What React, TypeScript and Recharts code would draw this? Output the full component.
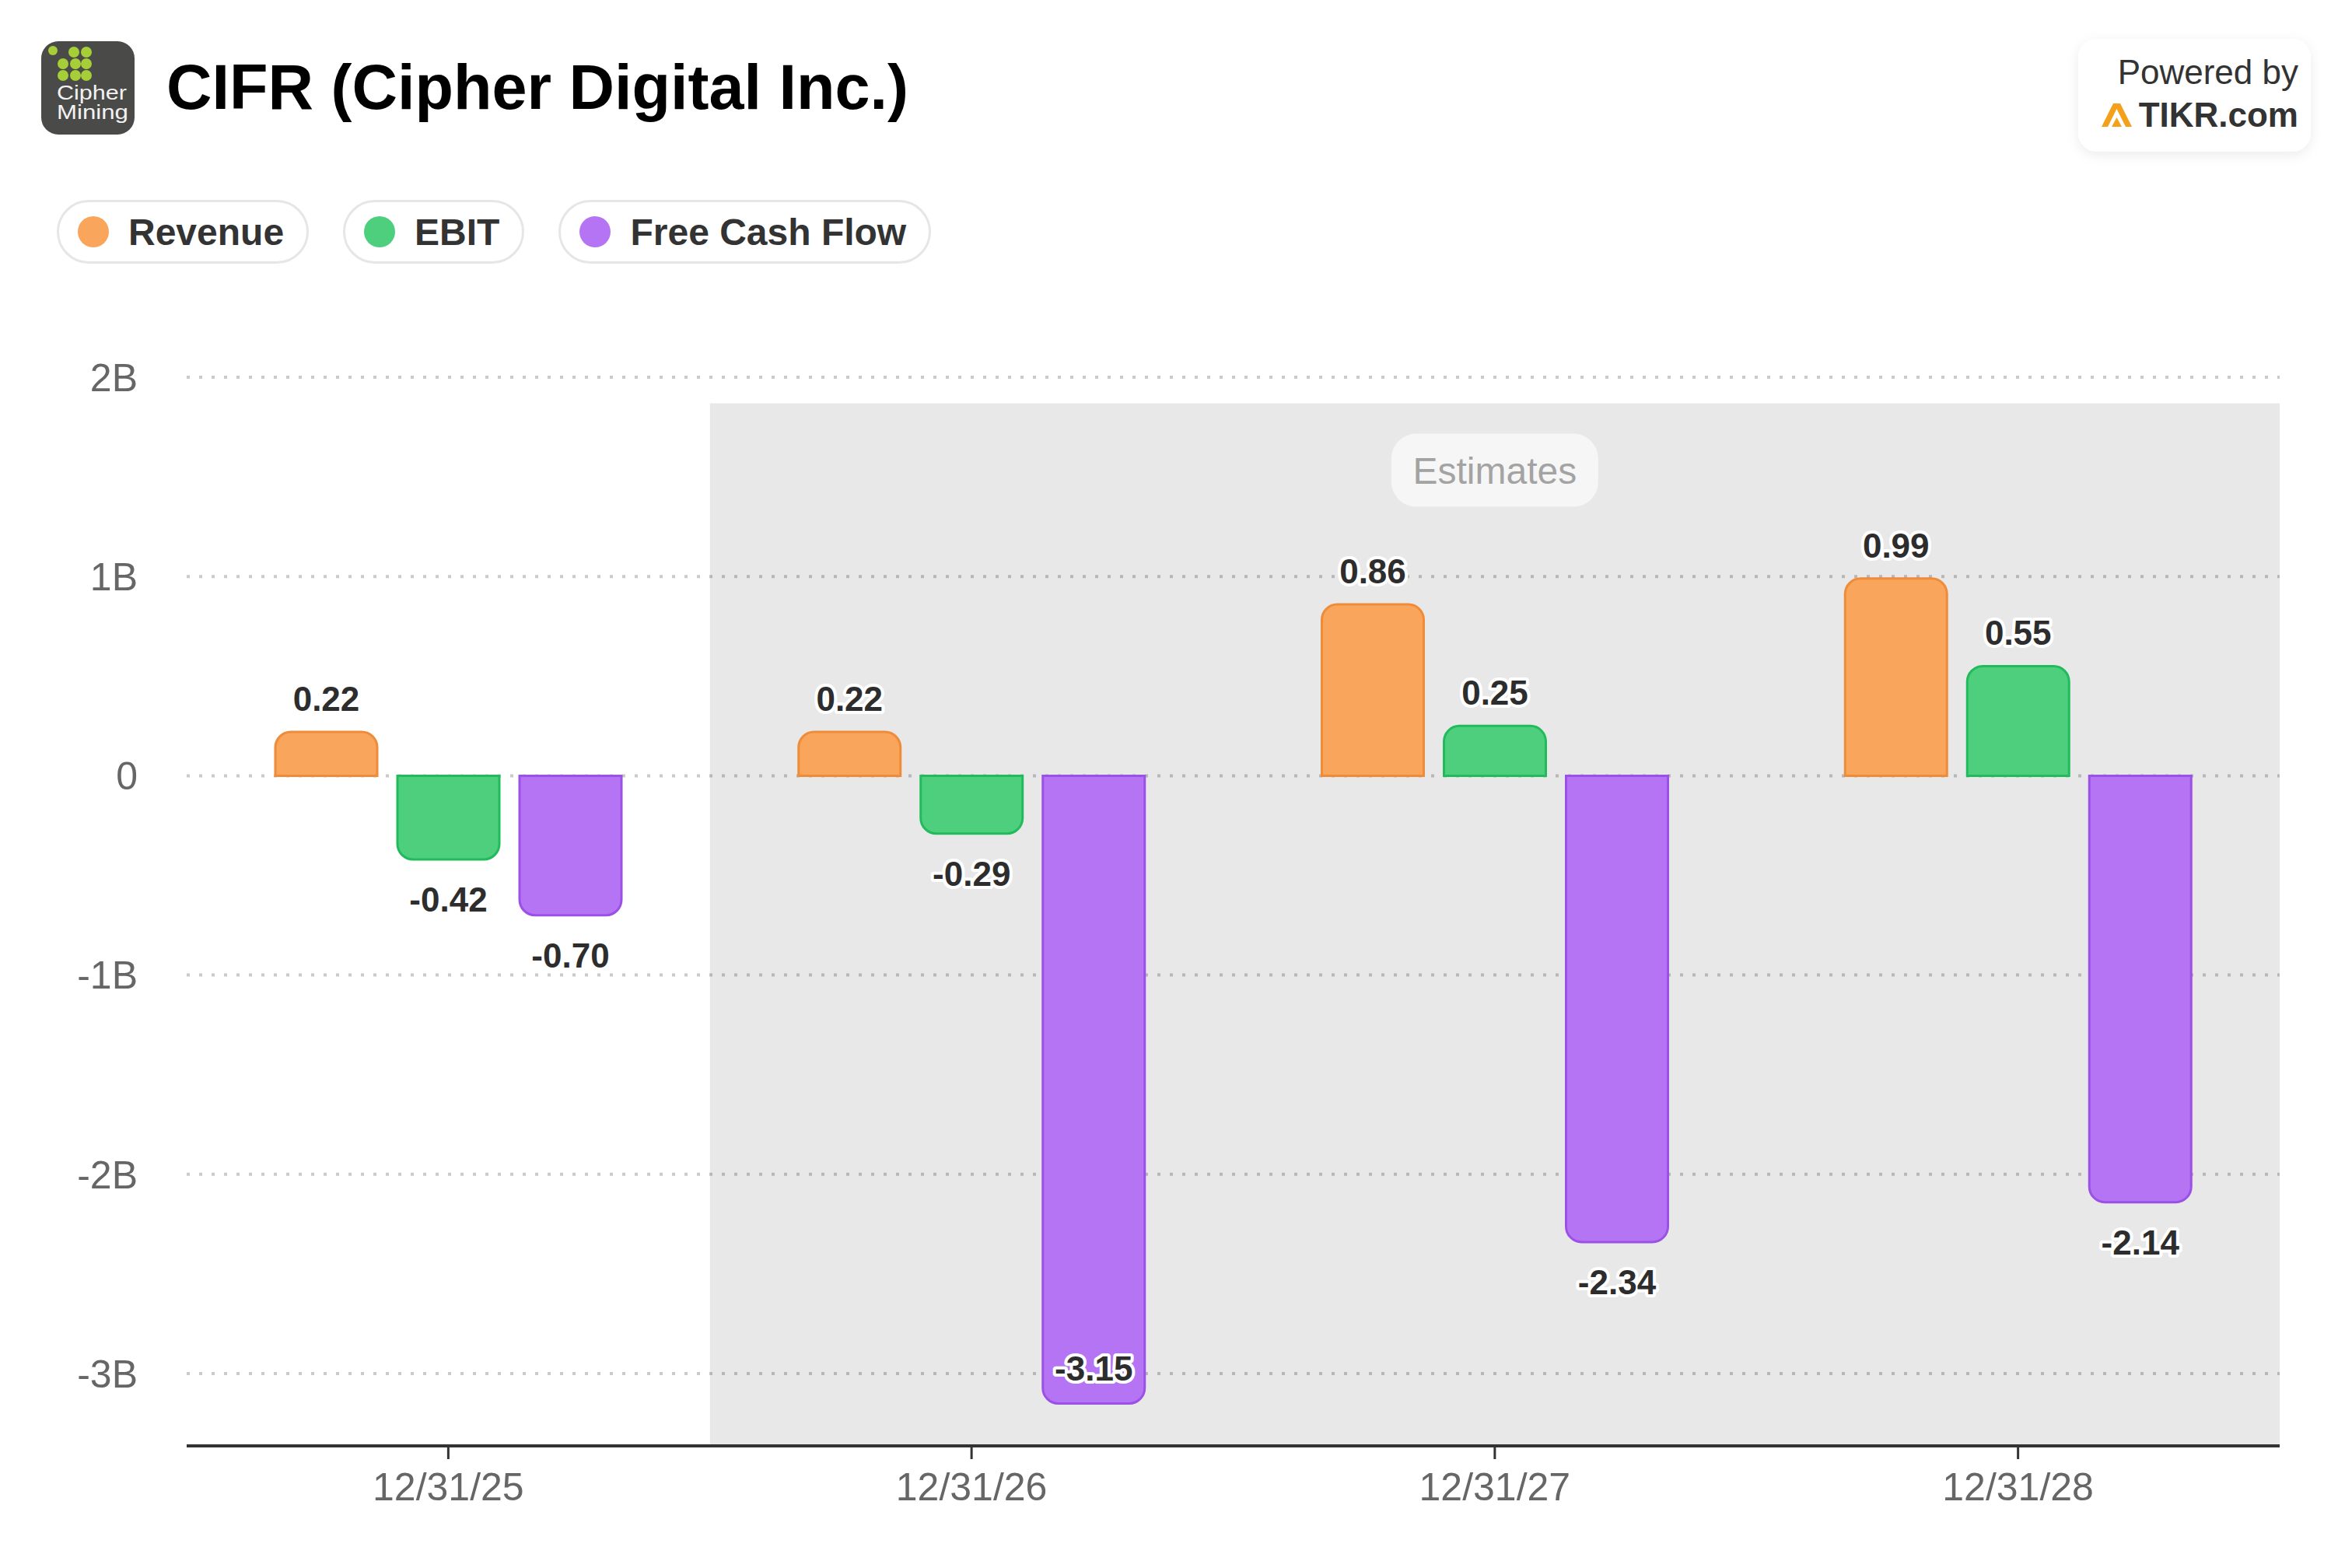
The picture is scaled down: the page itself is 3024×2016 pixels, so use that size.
import React from 'react';
import { BarChart, Bar, XAxis, YAxis, CartesianGrid, ReferenceArea, LabelList } from 'recharts';

const categories = ['12/31/25', '12/31/26', '12/31/27', '12/31/28'];
const revenue = [0.22, 0.22, 0.86, 0.99];
const ebit = [-0.42, -0.29, 0.25, 0.55];
const freeCashFlow = [-0.7, -3.15, -2.34, -2.14];

const yTicks = [-3, -2, -1, 0, 1, 2];
const yDomain = [-3.363, 2];

// shaded "Estimates" band
const estimatesFrom = '12/31/26';
const estimatesTo = '12/31/28';
const estimatesTop = 1.869;

const seriesInfo = [
  { key: 'revenue', name: 'Revenue', fill: '#f9a65c', stroke: '#ef8c3a' },
  { key: 'ebit', name: 'EBIT', fill: '#4ecf7d', stroke: '#22bb5c' },
  { key: 'fcf', name: 'Free Cash Flow', fill: '#b574f3', stroke: '#9b50e6' },
];

const FONT = '"Liberation Sans", Arial, Helvetica, sans-serif';
const PLOT_BOTTOM = 1862;

const chartData = categories.map((date, i) => ({
  date,
  revenue: revenue[i],
  ebit: ebit[i],
  fcf: freeCashFlow[i],
}));

function renderValueLabel(props: any) {
  const vb = props.viewBox || props;
  const x = vb.x ?? props.x;
  const y = vb.y ?? props.y;
  const w = vb.width ?? props.width;
  const h = vb.height ?? props.height;
  const value = Number(props.value);
  const top = Math.min(y, y + h);
  const bottom = Math.max(y, y + h);
  let cy;
  if (value >= 0) {
    cy = top - 43;
  } else {
    cy = bottom + 51;
    if (cy > PLOT_BOTTOM - 60) cy = bottom - 45;
  }
  return (
    <text
      x={x + w / 2}
      y={cy + 16}
      textAnchor="middle"
      fontSize={44}
      fontWeight="bold"
      fill="#2d2d2d"
      stroke="#ffffff"
      strokeWidth={8}
      strokeLinejoin="round"
      style={{ paintOrder: 'stroke', fontFamily: FONT }}
    >
      {value.toFixed(2)}
    </text>
  );
}

function renderEstimatesTag(props: any) {
  const vb = props.viewBox || {};
  const cx = vb.x + vb.width / 2;
  const top = vb.y + 39;
  return (
    <g>
      <rect x={cx - 133} y={top} width={266} height={94} rx={32} fill="#f6f6f6" />
      <text
        x={cx}
        y={top + 64}
        textAnchor="middle"
        fontSize={48}
        fill="#a3a3a3"
        style={{ fontFamily: FONT }}
      >
        Estimates
      </text>
    </g>
  );
}

function Header() {
  return (
    <svg width={3024} height={230} style={{ position: 'absolute', left: 0, top: 0, fontFamily: FONT }}>
      {/* company logo */}
      <g transform="translate(53,53)">
        <rect width={120} height={120} rx={22} fill="#4a4b48" />
        <circle cx={15} cy={12} r={6} fill="#a6ce39" />
        <circle cx={42} cy={14} r={7} fill="#a6ce39" />
        <circle cx={58} cy={14} r={7} fill="#a6ce39" />
        <circle cx={28} cy={29} r={7} fill="#a6ce39" />
        <circle cx={44} cy={29} r={7} fill="#a6ce39" />
        <circle cx={58} cy={29} r={7} fill="#a6ce39" />
        <circle cx={28} cy={44} r={7} fill="#a6ce39" />
        <circle cx={44} cy={44} r={7} fill="#a6ce39" />
        <circle cx={58} cy={44} r={7} fill="#a6ce39" />
        <text x={20} y={75} fontSize={25} fill="#f2f2f2" textLength={90} lengthAdjust="spacingAndGlyphs">Cipher</text>
        <text x={20} y={100} fontSize={25} fill="#f2f2f2" textLength={92} lengthAdjust="spacingAndGlyphs">Mining</text>
      </g>
      <text x={214} y={140} fontSize={81} fontWeight="bold" fill="#000">
        CIFR (Cipher Digital Inc.)
      </text>
      {/* powered by badge */}
      <defs>
        <filter id="badgeShadow" x="-20%" y="-30%" width="140%" height="160%">
          <feDropShadow dx="0" dy="4" stdDeviation="8" floodColor="#000" floodOpacity="0.08" />
        </filter>
      </defs>
      <g transform="translate(2672,50)">
        <rect width={299} height={145} rx={24} fill="#fff" filter="url(#badgeShadow)" />
        <text x={283} y={58} fontSize={44} fill="#333" textAnchor="end">Powered by</text>
        <path d="M30 113 L45 83 L54 83 L69 113 L61 113 L49.5 90 L38 113 Z" fill="#f5a01a" />
        <path d="M43 113 L49.5 101 L56 113 Z" fill="#f5a01a" />
        <text x={283} y={113} fontSize={44} fontWeight="bold" fill="#333" textAnchor="end">TIKR.com</text>
      </g>
    </svg>
  );
}

function LegendPills() {
  return (
    <div
      style={{
        position: 'absolute',
        left: 73,
        top: 257,
        display: 'flex',
        gap: 44,
        fontFamily: FONT,
      }}
    >
      {seriesInfo.map((s) => (
        <div
          key={s.key}
          style={{
            height: 82,
            boxSizing: 'border-box',
            border: '3px solid #e6e6e6',
            borderRadius: 41,
            padding: '0 29px 0 24px',
            display: 'flex',
            alignItems: 'center',
            background: '#fff',
          }}
        >
          <span
            style={{
              width: 40,
              height: 40,
              borderRadius: 20,
              background: s.fill,
              marginRight: 25,
              display: 'inline-block',
            }}
          />
          <span style={{ fontSize: 48, fontWeight: 'bold', color: '#333' }}>{s.name}</span>
        </div>
      ))}
    </div>
  );
}

export default function App() {
  return (
    <div style={{ position: 'relative', width: 3024, height: 2016, background: '#fff', fontFamily: FONT }}>
      <style>{'body{margin:0;}'}</style>
      <div style={{ position: 'absolute', left: 0, top: -3 }}>
        <BarChart
          width={3024}
          height={2016}
          data={chartData}
          margin={{ top: 488, right: 93, bottom: 0, left: 0 }}
          barSize={131}
          barGap={26}
        >
          <ReferenceArea
            x1={estimatesFrom}
            x2={estimatesTo}
            y1={yDomain[0]}
            y2={estimatesTop}
            fill="#000"
            fillOpacity={0.09}
            stroke="none"
            label={renderEstimatesTag}
          />
          <CartesianGrid vertical={false} stroke="#cacaca" strokeWidth={4} strokeDasharray="4 12" />
          <XAxis
            dataKey="date"
            height={154}
            interval={0}
            tickSize={17}
            tickMargin={17}
            tick={{ fill: '#666', fontSize: 50 }}
            axisLine={{ stroke: '#333', strokeWidth: 4 }}
            tickLine={{ stroke: '#333', strokeWidth: 3 }}
          />
          <YAxis
            width={240}
            domain={yDomain}
            ticks={yTicks}
            allowDataOverflow
            axisLine={false}
            tickLine={false}
            tickSize={0}
            tickMargin={63}
            tick={{ fill: '#666', fontSize: 50 }}
            tickFormatter={(v: number) => (v === 0 ? '0' : `${v}B`)}
          />
          {seriesInfo.map((s) => (
            <Bar
              key={s.key}
              dataKey={s.key}
              name={s.name}
              fill={s.fill}
              stroke={s.stroke}
              strokeWidth={3}
              radius={[20, 20, 0, 0]}
              isAnimationActive={false}
            >
              <LabelList dataKey={s.key} content={renderValueLabel} />
            </Bar>
          ))}
        </BarChart>
      </div>
      <Header />
      <LegendPills />
    </div>
  );
}
